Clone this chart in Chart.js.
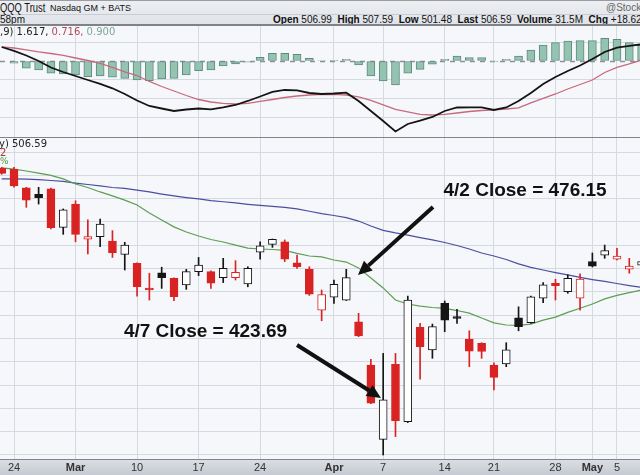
<!DOCTYPE html>
<html>
<head>
<meta charset="utf-8">
<script src="https://cdn.jsdelivr.net/npm/chart.js@4.4.1/dist/chart.umd.min.js"></script>
<style>
  body { margin: 0; width: 640px; height: 475px; overflow: hidden; background: #fff; position: relative;
         font-family: "Liberation Sans", Arial, sans-serif; }
  #hdr { position: absolute; left: 0; top: 0; width: 640px; height: 25px; overflow: hidden; white-space: nowrap;
         background: linear-gradient(#eceef2, #e0e3e8); border-top: 1px solid #9a9da4; border-bottom: 1px solid #7d8087;
         box-sizing: border-box; color: #111; }
  #hdr .row1 { position: absolute; left: 0; top: 0; width: 640px; height: 13px; border-bottom: 1px solid #c9ccd2; }
  #hdr span { position: absolute; }
  .legend { position: absolute; font-family: "DejaVu Sans", sans-serif; font-size: 10px; white-space: nowrap; }
  canvas { position: absolute; left: 0; }
</style>
</head>
<body>
<div id="hdr">
  <div class="row1"></div>
  <span style="left:0;top:0;font-size:12px;transform:scaleX(0.78);transform-origin:0 0;">QQQ Trust</span>
  <span style="left:50px;top:2px;font-size:9px;">Nasdaq GM + BATS</span>
  <span style="left:606px;top:1px;font-size:10px;color:#666;">@StockCharts.com</span>
  <span style="left:0;top:13px;font-size:10px;">58pm</span>
  <span style="left:273px;top:13px;font-size:10px;"><b>Open</b> 506.99 &nbsp;<b>High</b> 507.59 &nbsp;<b>Low</b> 501.48 &nbsp;<b>Last</b> 506.59 &nbsp;<b>Volume</b> 31.5M &nbsp;<b>Chg</b> +18.62</span>
</div>
<canvas id="macd" width="640" height="112" style="top:25px"></canvas>
<canvas id="price" width="640" height="338" style="top:137px"></canvas>
<div class="legend" style="left:0;top:26px;color:#222;">,9) 1.617, <span style="color:#b4475a">0.716,</span> <span style="color:#7ea797">0.900</span></div>
<div class="legend" style="left:-1px;top:138px;color:#222;">y) 506.59</div>
<div class="legend" style="left:0;top:147px;color:#b03030;">2</div>
<div class="legend" style="left:0;top:156px;color:#4a9a40;font-size:9px;">%</div>
<script>
// trading days shown (Feb 21 - May 7, 2025)
const dates = ['2/21','2/24','2/25','2/26','2/27','2/28','3/3','3/4','3/5','3/6','3/7','3/10','3/11','3/12','3/13','3/14',
  '3/17','3/18','3/19','3/20','3/21','3/24','3/25','3/26','3/27','3/28','3/31','4/1','4/2','4/3','4/4','4/7','4/8','4/9',
  '4/10','4/11','4/14','4/15','4/16','4/17','4/21','4/22','4/23','4/24','4/25','4/28','4/29','4/30','5/1','5/2','5/5','5/6','5/7'];

const openP  = [523.0,522.6,514.7,511.9,514.2,497.7,507.7,492.6,493.7,491.8,486.1,482.3,471.3,478.2,475.8,473.0,
  478.7,478.7,476.1,476.1,473.4,487.0,490.4,491.5,482.5,479.7,462.2,467.7,466.5,457.2,438.6,406.7,438.9,414.3,
  454.8,445.1,465.1,459.3,449.7,447.9,438.6,439.1,458.9,456.8,467.3,473.7,470.1,467.3,483.0,485.8,484.0,479.7,481.5];
const highP  = [523.5,523.5,514.9,514.9,514.6,505.6,509.1,500.9,501.2,496.3,491.3,482.5,478.0,480.6,476.0,479.7,
  484.8,479.0,484.4,483.4,480.8,491.5,492.7,492.3,485.8,480.8,470.8,475.1,479.7,460.8,441.1,443.6,443.6,468.2,
  456.5,456.2,466.1,462.5,453.3,448.2,439.6,448.2,463.6,468.2,474.0,475.4,477.3,477.7,486.7,490.1,488.7,484.4,484.0];
const lowP   = [520.5,515.0,506.3,507.7,497.0,494.7,491.5,486.3,489.4,484.8,479.4,468.2,466.5,471.5,466.2,471.1,
  477.0,471.5,474.0,475.1,472.2,484.0,489.1,483.0,480.1,468.5,457.6,465.1,466.3,450.8,422.0,400.0,407.9,413.9,
  432.5,441.5,452.9,456.5,437.9,441.5,427.9,437.9,453.3,456.5,465.4,466.5,469.4,462.2,480.7,484.4,483.7,478.0,480.0];
const closeP = [520.9,515.5,509.4,510.4,497.6,505.2,494.7,493.7,499.1,486.8,490.1,472.2,470.8,476.1,467.9,478.7,
  481.5,473.7,480.1,478.4,480.1,489.8,492.6,484.0,480.8,469.0,468.9,473.3,476.15,451.1,422.2,423.69,414.7,466.5,
  446.5,455.1,457.9,458.6,444.6,444.4,433.3,445.1,455.1,467.9,473.0,472.7,475.8,475.5,481.0,487.7,485.4,481.1,483.0];

const sma20 = [523.2,522.7,521.9,521.0,520.0,518.5,516.3,514.8,512.9,511.2,509.4,507.3,503.9,500.9,497.9,495.7,
  494.0,492.5,491.4,490.1,488.8,488.4,488.2,487.8,486.5,485.4,485.0,483.7,482.8,480.3,476.0,471.7,466.5,464.8,
  463.9,463.3,462.9,462.0,460.9,458.8,456.7,455.8,455.6,456.2,457.9,459.2,461.2,463.0,464.8,467.0,468.5,469.7,470.8];
const sma50 = [518.5,518.5,518.4,518.2,517.8,517.4,516.7,516.1,515.5,514.8,514.4,513.7,512.9,512.0,511.2,510.5,
  509.9,509.2,508.7,508.2,507.6,507.1,506.7,506.3,505.6,504.6,503.6,502.8,501.9,500.4,498.3,496.4,495.3,494.4,
  493.3,492.3,491.2,489.9,488.4,486.7,485.4,483.9,482.0,480.5,479.4,478.3,477.3,476.2,475.3,474.5,473.6,472.7,471.9];

// MACD(12,26,9)
const macdLine = [3.70,2.65,1.46,0,-1.72,-2.91,-3.97,-5.03,-6.08,-7.22,-8.73,-10.45,-11.90,-12.57,-13.23,-12.83,
  -12.57,-12.78,-12.30,-11.64,-10.58,-9.39,-8.20,-7.67,-7.75,-8.47,-8.73,-8.60,-8.39,-10.58,-13.23,-15.87,-18.65,
  -16.67,-15.79,-14.81,-13.23,-12.30,-12.25,-12.25,-12.96,-12.30,-10.58,-8.47,-6.08,-4.23,-2.65,-1.19,0.53,2.38,3.52,3.97,4.42];
const signalLine = [3.76,3.44,2.96,2.43,1.98,1.46,0.79,0.13,-0.61,-1.72,-2.91,-3.84,-5.42,-6.75,-7.94,-9.13,
  -10.19,-10.85,-11.24,-11.38,-11.24,-10.71,-10.19,-9.66,-9.26,-9.00,-8.81,-8.86,-9.00,-9.52,-10.45,-11.64,-12.83,
  -13.49,-14.10,-14.29,-14.15,-13.76,-13.36,-13.10,-12.91,-12.70,-12.43,-11.11,-9.92,-8.73,-7.41,-6.22,-5.03,-3.04,-1.72,-0.79,0.26];
const macdHist = [0,-0.61,-1.93,-2.38,-3.25,-3.44,-3.70,-4.15,-3.97,-4.31,-4.58,-5.03,-5.21,-4.76,-4.58,-3.70,
  -2.57,-2.38,-1.32,-0.79,-0.34,0.98,2.04,2.04,1.77,0.71,0.13,0.05,0.45,-1.06,-3.97,-5.29,-6.35,-3.25,-2.20,-0.87,
  0.45,1.32,0.87,0.87,-0.19,0.45,1.32,2.91,4.23,4.84,5.29,5.37,5.37,6.01,5.74,4.84,4.23];

// x axis labels
const axisTicks  = ['2/24','3/3','3/10','3/17','3/24','4/1','4/7','4/14','4/21','4/28','5/1','5/5'];
const axisLabels = ['24','Mar','10','17','24','Apr','7','14','21','28','May','5'];
const monthLabels = ['Mar','Apr','May'];
const priceGrid = [400,410,420,430,440,450,460,470,480,490,500,510,520,530];
const macdGrid = [-15,-10,-5,0,5];

const callouts = [
  { label: '4/2 Close = 476.15', textAt: [42.53, 513.3], from: [35.05, 506.4], to: [28.95, 477.25] },
  { label: '4/7 Close = 423.69', textAt: [16.56, 452.8], from: [24.0, 447.2], to: [30.82, 424.46] }
];

const X_MIN = -0.138, X_MAX = 51.87;
const RED = '#d92222', BLACK = '#151515';
const tickPos = axisTicks.map(d => dates.indexOf(d));
const labelAt = v => axisLabels[tickPos.indexOf(v)] || '';

function candle(k) {
  const prev = k > 0 ? closeP[k - 1] : openP[k];
  const edge = closeP[k] < prev ? RED : BLACK;
  return { edge: edge, fill: closeP[k] < openP[k] ? edge : '#ffffff' };
}
const pts = arr => arr.map((v, k) => ({ x: k, y: v }));

const panelPlugin = {
  id: 'panel',
  beforeDraw(chart) {
    const { ctx, chartArea: a, width, height } = chart;
    ctx.save();
    ctx.fillStyle = '#f6f7fa';
    ctx.fillRect(a.left, a.top, a.right - a.left, a.bottom - a.top);
    if (height - a.bottom > 2) {
      const g = ctx.createLinearGradient(0, a.bottom, 0, height);
      g.addColorStop(0, '#dcdfe5');
      g.addColorStop(1, '#c5c9d1');
      ctx.fillStyle = g;
      ctx.fillRect(0, a.bottom, width, height - a.bottom);
    }
    ctx.restore();
  },
  afterDraw(chart) {
    const { ctx, chartArea: a, width, height } = chart;
    ctx.save();
    ctx.fillStyle = '#80838a';
    ctx.fillRect(0, a.top, width, 1);
    if (height - a.bottom > 2) ctx.fillRect(0, a.bottom, width, 1);
    ctx.restore();
  }
};

const zeroLinePlugin = {
  id: 'zeroLine',
  beforeDatasetsDraw(chart) {
    const { ctx, chartArea: a, scales: { y } } = chart;
    const yy = Math.round(y.getPixelForValue(0)) + 0.5;
    ctx.save();
    ctx.strokeStyle = '#8d9097';
    ctx.lineWidth = 1.5;
    ctx.setLineDash([5, 5]);
    ctx.beginPath(); ctx.moveTo(a.left, yy); ctx.lineTo(a.right, yy); ctx.stroke();
    ctx.restore();
  }
};

const calloutPlugin = {
  id: 'callouts',
  afterDatasetsDraw(chart) {
    const { ctx, scales: { x, y } } = chart;
    ctx.save();
    callouts.forEach(c => {
      const x0 = x.getPixelForValue(c.from[0]), y0 = y.getPixelForValue(c.from[1]);
      const x1 = x.getPixelForValue(c.to[0]), y1 = y.getPixelForValue(c.to[1]);
      const ang = Math.atan2(y1 - y0, x1 - x0);
      const bx = x1 - 14 * Math.cos(ang), by = y1 - 14 * Math.sin(ang);
      ctx.strokeStyle = '#111'; ctx.fillStyle = '#111'; ctx.lineWidth = 4;
      ctx.beginPath(); ctx.moveTo(x0, y0); ctx.lineTo(bx, by); ctx.stroke();
      ctx.beginPath();
      ctx.moveTo(x1, y1);
      ctx.lineTo(bx + 6.5 * Math.sin(ang), by - 6.5 * Math.cos(ang));
      ctx.lineTo(bx - 6.5 * Math.sin(ang), by + 6.5 * Math.cos(ang));
      ctx.closePath(); ctx.fill();
      ctx.font = 'bold 19px "Liberation Sans", Arial, sans-serif';
      ctx.textAlign = 'center'; ctx.textBaseline = 'middle';
      ctx.fillText(c.label, x.getPixelForValue(c.textAt[0]), y.getPixelForValue(c.textAt[1]));
    });
    ctx.restore();
  }
};

function xScale(showLabels) {
  return {
    type: 'linear', min: X_MIN, max: X_MAX, offset: false,
    afterBuildTicks: s => { s.ticks = tickPos.map(v => ({ value: v })); },
    afterFit: s => { s.height = showLabels ? 16 : 0; },
    grid: { color: '#d5d9e1', drawTicks: false, offset: false },
    border: { display: false },
    ticks: {
      display: showLabels, autoSkip: false, maxRotation: 0, padding: 2, color: '#333',
      font: ctx => ({ family: '"Liberation Sans", Arial, sans-serif', size: 11,
        weight: monthLabels.includes(labelAt(ctx.tick && ctx.tick.value)) ? 'bold' : 'normal' }),
      callback: v => labelAt(v)
    }
  };
}
function yScale(min, max, grid) {
  return {
    min: min, max: max,
    afterBuildTicks: s => { s.ticks = grid.map(v => ({ value: v })); },
    afterFit: s => { s.width = 0; },
    grid: { color: ctx => (ctx.tick && ctx.tick.value === 0 && grid === macdGrid) ? 'rgba(0,0,0,0)' : '#d5d9e1', drawTicks: false },
    border: { display: false },
    ticks: { display: false }
  };
}
const common = {
  responsive: false, animation: false, devicePixelRatio: 1,
  layout: { padding: 0 },
  events: []
};

new Chart(document.getElementById('macd'), {
  type: 'bar',
  data: {
    datasets: [
      { type: 'line', label: 'MACD', data: pts(macdLine), borderColor: '#141414', borderWidth: 1.8, pointRadius: 0, order: 0 },
      { type: 'line', label: 'Signal', data: pts(signalLine), borderColor: '#c76a7b', borderWidth: 1.3, pointRadius: 0, order: 1 },
      { type: 'bar', label: 'Histogram', data: pts(macdHist), backgroundColor: '#94c3b2', borderColor: '#5c8c7b',
        borderWidth: 1, borderSkipped: false, barThickness: 8, order: 2 }
    ]
  },
  options: Object.assign({}, common, {
    plugins: { legend: { display: false }, tooltip: { enabled: false }, panel: {} },
    scales: { x: xScale(false), y: yScale(-20.11, 9.52, macdGrid) }
  }),
  plugins: [panelPlugin, zeroLinePlugin]
});

new Chart(document.getElementById('price'), {
  type: 'bar',
  data: {
    datasets: [
      { type: 'bar', label: 'Body', grouped: false, order: 0, barThickness: 8, minBarLength: 2,
        data: dates.map((d, k) => ({ x: k, y: [Math.min(openP[k], closeP[k]), Math.max(openP[k], closeP[k])] })),
        backgroundColor: dates.map((d, k) => candle(k).fill), borderColor: dates.map((d, k) => candle(k).edge),
        borderWidth: 1, borderSkipped: false },
      { type: 'bar', label: 'Wick', grouped: false, order: 1, barThickness: 1,
        data: dates.map((d, k) => ({ x: k, y: [lowP[k], highP[k]] })),
        backgroundColor: dates.map((d, k) => candle(k).edge), borderWidth: 0 },
      { type: 'line', label: 'MA(20)', data: pts(sma20), borderColor: '#5e9d52', borderWidth: 1.2, pointRadius: 0, order: 2 },
      { type: 'line', label: 'MA(50)', data: pts(sma50), borderColor: '#4b4e9f', borderWidth: 1.2, pointRadius: 0, order: 3 }
    ]
  },
  options: Object.assign({}, common, {
    plugins: { legend: { display: false }, tooltip: { enabled: false }, panel: {} },
    scales: { x: xScale(true), y: yScale(398.28, 536.48, priceGrid) }
  }),
  plugins: [panelPlugin, calloutPlugin]
});
</script>
</body>
</html>
